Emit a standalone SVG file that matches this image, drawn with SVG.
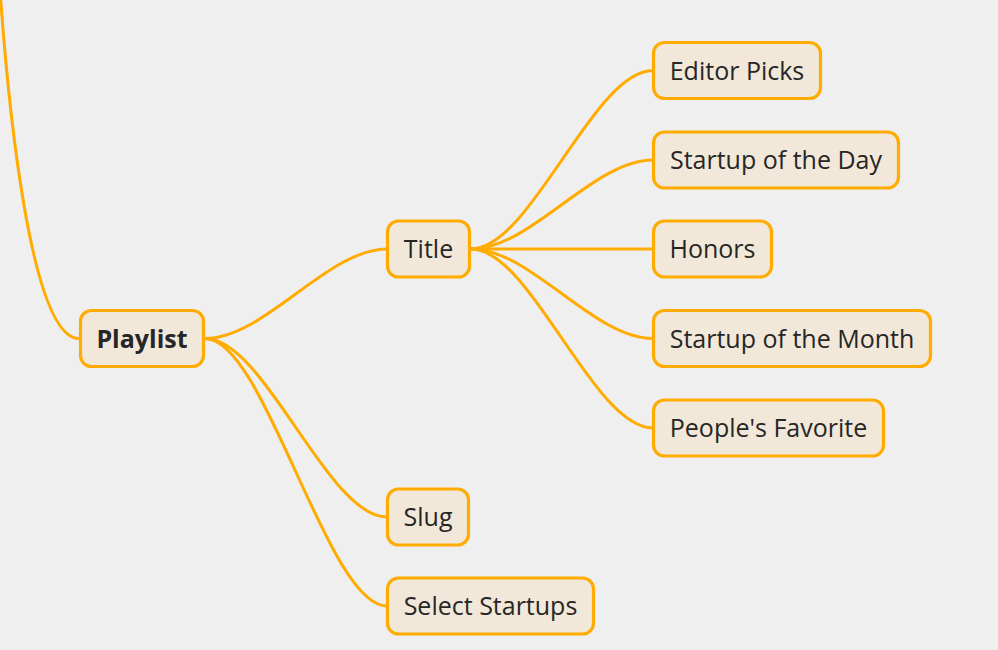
<svg xmlns="http://www.w3.org/2000/svg" width="998" height="650" viewBox="0 0 998 650">
<style>
.bg{fill:#efefef}
.lk{fill:none;stroke:#ffab00;stroke-width:3;stroke-linecap:round}
.nd rect{fill:#f2e8d9;stroke:#ffab00;stroke-width:3.2}
.nd text{font-family:"Open Sans","Noto Sans","DejaVu Sans",sans-serif;font-size:25px;fill:#262626;text-anchor:middle}
.nd text.b{font-weight:bold}
</style>
<rect class="bg" x="0" y="0" width="998" height="650"/>
<g id="connectors">
<path class="lk" d="M0.5 -3 C8 100 30 338.5 79 338.5"/>
<path class="lk" d="M205 338.5 C265 338.5 327 249 387 249"/>
<path class="lk" d="M205 338.5 C265 338.5 327 517 387 517"/>
<path class="lk" d="M205 338.5 C265 338.5 327 606 387 606"/>
<path class="lk" d="M471 249 C531 249 593 70.5 653 70.5"/>
<path class="lk" d="M471 249 C531 249 593 160 653 160"/>
<path class="lk" d="M471 249 L653 249"/>
<path class="lk" d="M471 249 C531 249 593 338.5 653 338.5"/>
<path class="lk" d="M471 249 C531 249 593 428 653 428"/>
</g>
<g id="playlist" class="nd"><rect x="80.5" y="310.5" width="123" height="56" rx="11"/><text class="b" x="142" y="347.5">Playlist</text></g>
<g id="title" class="nd"><rect x="387.5" y="221" width="82" height="56" rx="11"/><text x="428.5" y="258">Title</text></g>
<g id="slug" class="nd"><rect x="387.5" y="489" width="81" height="56" rx="11"/><text x="428" y="526">Slug</text></g>
<g id="select-startups" class="nd"><rect x="387.5" y="578" width="206" height="56" rx="11"/><text x="490.5" y="615">Select Startups</text></g>
<g id="editor-picks" class="nd"><rect x="653.5" y="42.5" width="167" height="56" rx="11"/><text x="737" y="79.5">Editor Picks</text></g>
<g id="startup-day" class="nd"><rect x="653.5" y="132" width="245" height="56" rx="11"/><text x="776" y="169">Startup of the Day</text></g>
<g id="honors" class="nd"><rect x="653.5" y="221" width="118" height="56" rx="11"/><text x="712.5" y="258">Honors</text></g>
<g id="startup-month" class="nd"><rect x="653.5" y="310.5" width="277" height="56" rx="11"/><text x="792" y="347.5">Startup of the Month</text></g>
<g id="peoples-favorite" class="nd"><rect x="653.5" y="400" width="230" height="56" rx="11"/><text x="768.5" y="437">People's Favorite</text></g>
</svg>
